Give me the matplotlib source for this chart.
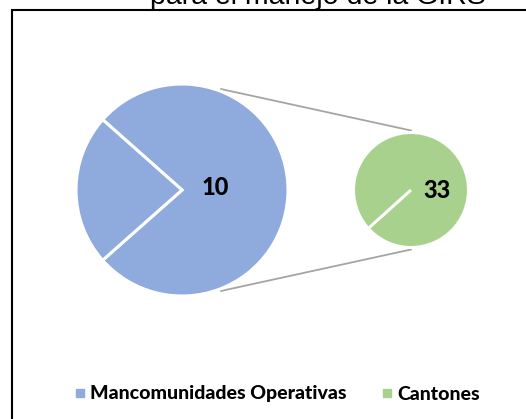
import numpy as np
import matplotlib
matplotlib.use("Agg")
import matplotlib.pyplot as plt
from matplotlib.lines import Line2D
from matplotlib.patches import Rectangle

# data
title_text = "para el manejo de la GIRS"
categories = ["Mancomunidades Operativas", "Cantones"]
main_values = [10, 3]
main_labels = ["10", ""]
second_values = [33, 0]
second_labels = ["33", ""]
colors = ["#8FAADC", "#A9D18E"]


def main():
    fig = plt.figure(figsize=(5.26, 4.19), dpi=100)
    ax = fig.add_axes([0, 0, 1, 1])

    # big pie
    c1, r1 = (182, 229), 106
    ax.pie(main_values, colors=[colors[0], colors[0]], startangle=221.5,
           center=c1, radius=r1, frame=True,
           wedgeprops=dict(edgecolor="white", linewidth=2.2))
    # small pie
    c2, r2 = (411, 229), 57.5
    ax.pie(second_values, colors=[colors[1], colors[1]], startangle=222,
           center=c2, radius=r2, frame=True,
           wedgeprops=dict(edgecolor="white", linewidth=2.2))
    ax.set_xlim(0, 526)
    ax.set_ylim(0, 419)
    ax.set_aspect("equal")
    ax.axis("off")

    # data labels
    ax.text(c1[0] + 33, c1[1] + 2, main_labels[0], ha="center", va="center",
            fontsize=17, fontweight="black", family="Lato")
    ax.text(c2[0] + 26, c2[1] - 1, second_labels[0], ha="center", va="center",
            fontsize=17, fontweight="black", family="Lato")

    # connector lines
    for s in (1, -1):
        a = np.deg2rad(69) * s
        x0 = c1[0] + r1 * np.cos(a) + 1
        y0 = c1[1] + r1 * np.sin(a) + 2 * s
        x1 = c2[0]
        y1 = c2[1] + s * (r2 + 2)
        ax.plot([x0, x1], [y0, y1], color="#A5A5A5", lw=1.3, zorder=0)

    # title (cut at top, as in the original)
    ax.text(318, 415, title_text, ha="center", va="baseline",
            fontsize=20.5, family="Liberation Sans", clip_on=False)

    # border
    ax.add_patch(Rectangle((12, -20), 600, 429, fill=False,
                           edgecolor="black", lw=1.5, clip_on=False))

    handles = [Line2D([], [], marker="s", ls="", color=c, markersize=6)
               for c in colors]
    ax.legend(handles, categories, loc="center",
              bbox_to_anchor=(277.5 / 526, 25 / 419), ncol=2,
              frameon=False, handletextpad=0.3, handlelength=0.5,
              columnspacing=1.8,
              prop=dict(family="Lato", weight="black", size=14))

    fig.savefig("out.png", dpi=100)


if __name__ == "__main__":
    main()
